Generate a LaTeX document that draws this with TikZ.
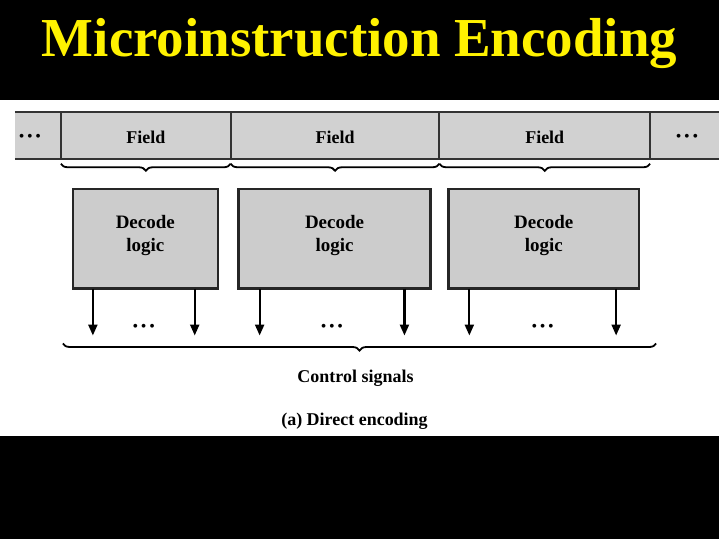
\documentclass[tikz,border=0pt]{standalone}
\usepackage{fontspec}
\setmainfont{Liberation Serif}
\usetikzlibrary{decorations.pathreplacing,arrows.meta}
\begin{document}
\begin{tikzpicture}[x=1pt,y=-1pt,
  fieldcell/.style={draw=black!80,line width=2pt,fill=black!18},
  decbox/.style={draw=black!85,line width=2.4pt,fill=black!20,align=center,font=\bfseries\fontsize{19}{23}\selectfont},
  brc/.style={decorate,decoration={brace,mirror,amplitude=7pt},line width=1.8pt},
  sig/.style={-{Triangle[length=11pt,width=9pt]},line width=2.2pt},
  lbl/.style={font=\bfseries\fontsize{18}{20}\selectfont},
  dts/.style={font=\fontsize{16}{18}\selectfont}]
\fill[black] (0,0) rectangle (720,540);
\fill[white] (0,100) rectangle (720,437);
\node[font=\bfseries\fontsize{55}{60}\selectfont,text=yellow] (title) at (360,44) {Microinstruction Encoding};
% field bar
\fill[black!18] (15,112) rectangle (720,159);
\draw[black!80,line width=2pt] (15,112) -- (720,112) (15,159) -- (720,159);
\foreach \a/\b/\n in {61/231/f1,231/440/f2,440/651/f3}{
  \draw[fieldcell] (\a,112) rectangle (\b,159);
  \node[lbl] (\n) at ({(\a+\b)/2},138) {Field};
  \draw[brc] (\a,164) -- (\b,164);
}
\node[dts] (dl) at (30,138) {\textbullet\,\textbullet\,\textbullet};
\node[dts] (dr) at (688,138) {\textbullet\,\textbullet\,\textbullet};
% decode boxes
\foreach \a/\b/\n/\p/\q in {73/218/d1/93/195,239/431/d2/260/405,449/640/d3/470/617}{
  \draw[decbox] (\a,189) rectangle (\b,289);
  \node[decbox,draw=none,fill=none] (\n) at ({(\a+\b)/2},236) {Decode\\logic};
  \coordinate (\n a) at (\p,289); \coordinate (\n ae) at (\p,336);
  \coordinate (\n b) at (\q,289); \coordinate (\n be) at (\q,336);
  \draw[sig] (\n a) -- (\n ae);
  \draw[sig] (\n b) -- (\n be);
  \node[dts] (\n dots) at ({(\p+\q)/2},328) {\textbullet\,\textbullet\,\textbullet};
}
\coordinate (bl) at (63,344); \coordinate (br) at (657,344);
\draw[brc] (bl) -- (br);
\node[lbl] (cs) at (356,379) {Control signals};
\node[lbl] (cap) at (355,422) {(a) Direct encoding};
\end{tikzpicture}
\end{document}
